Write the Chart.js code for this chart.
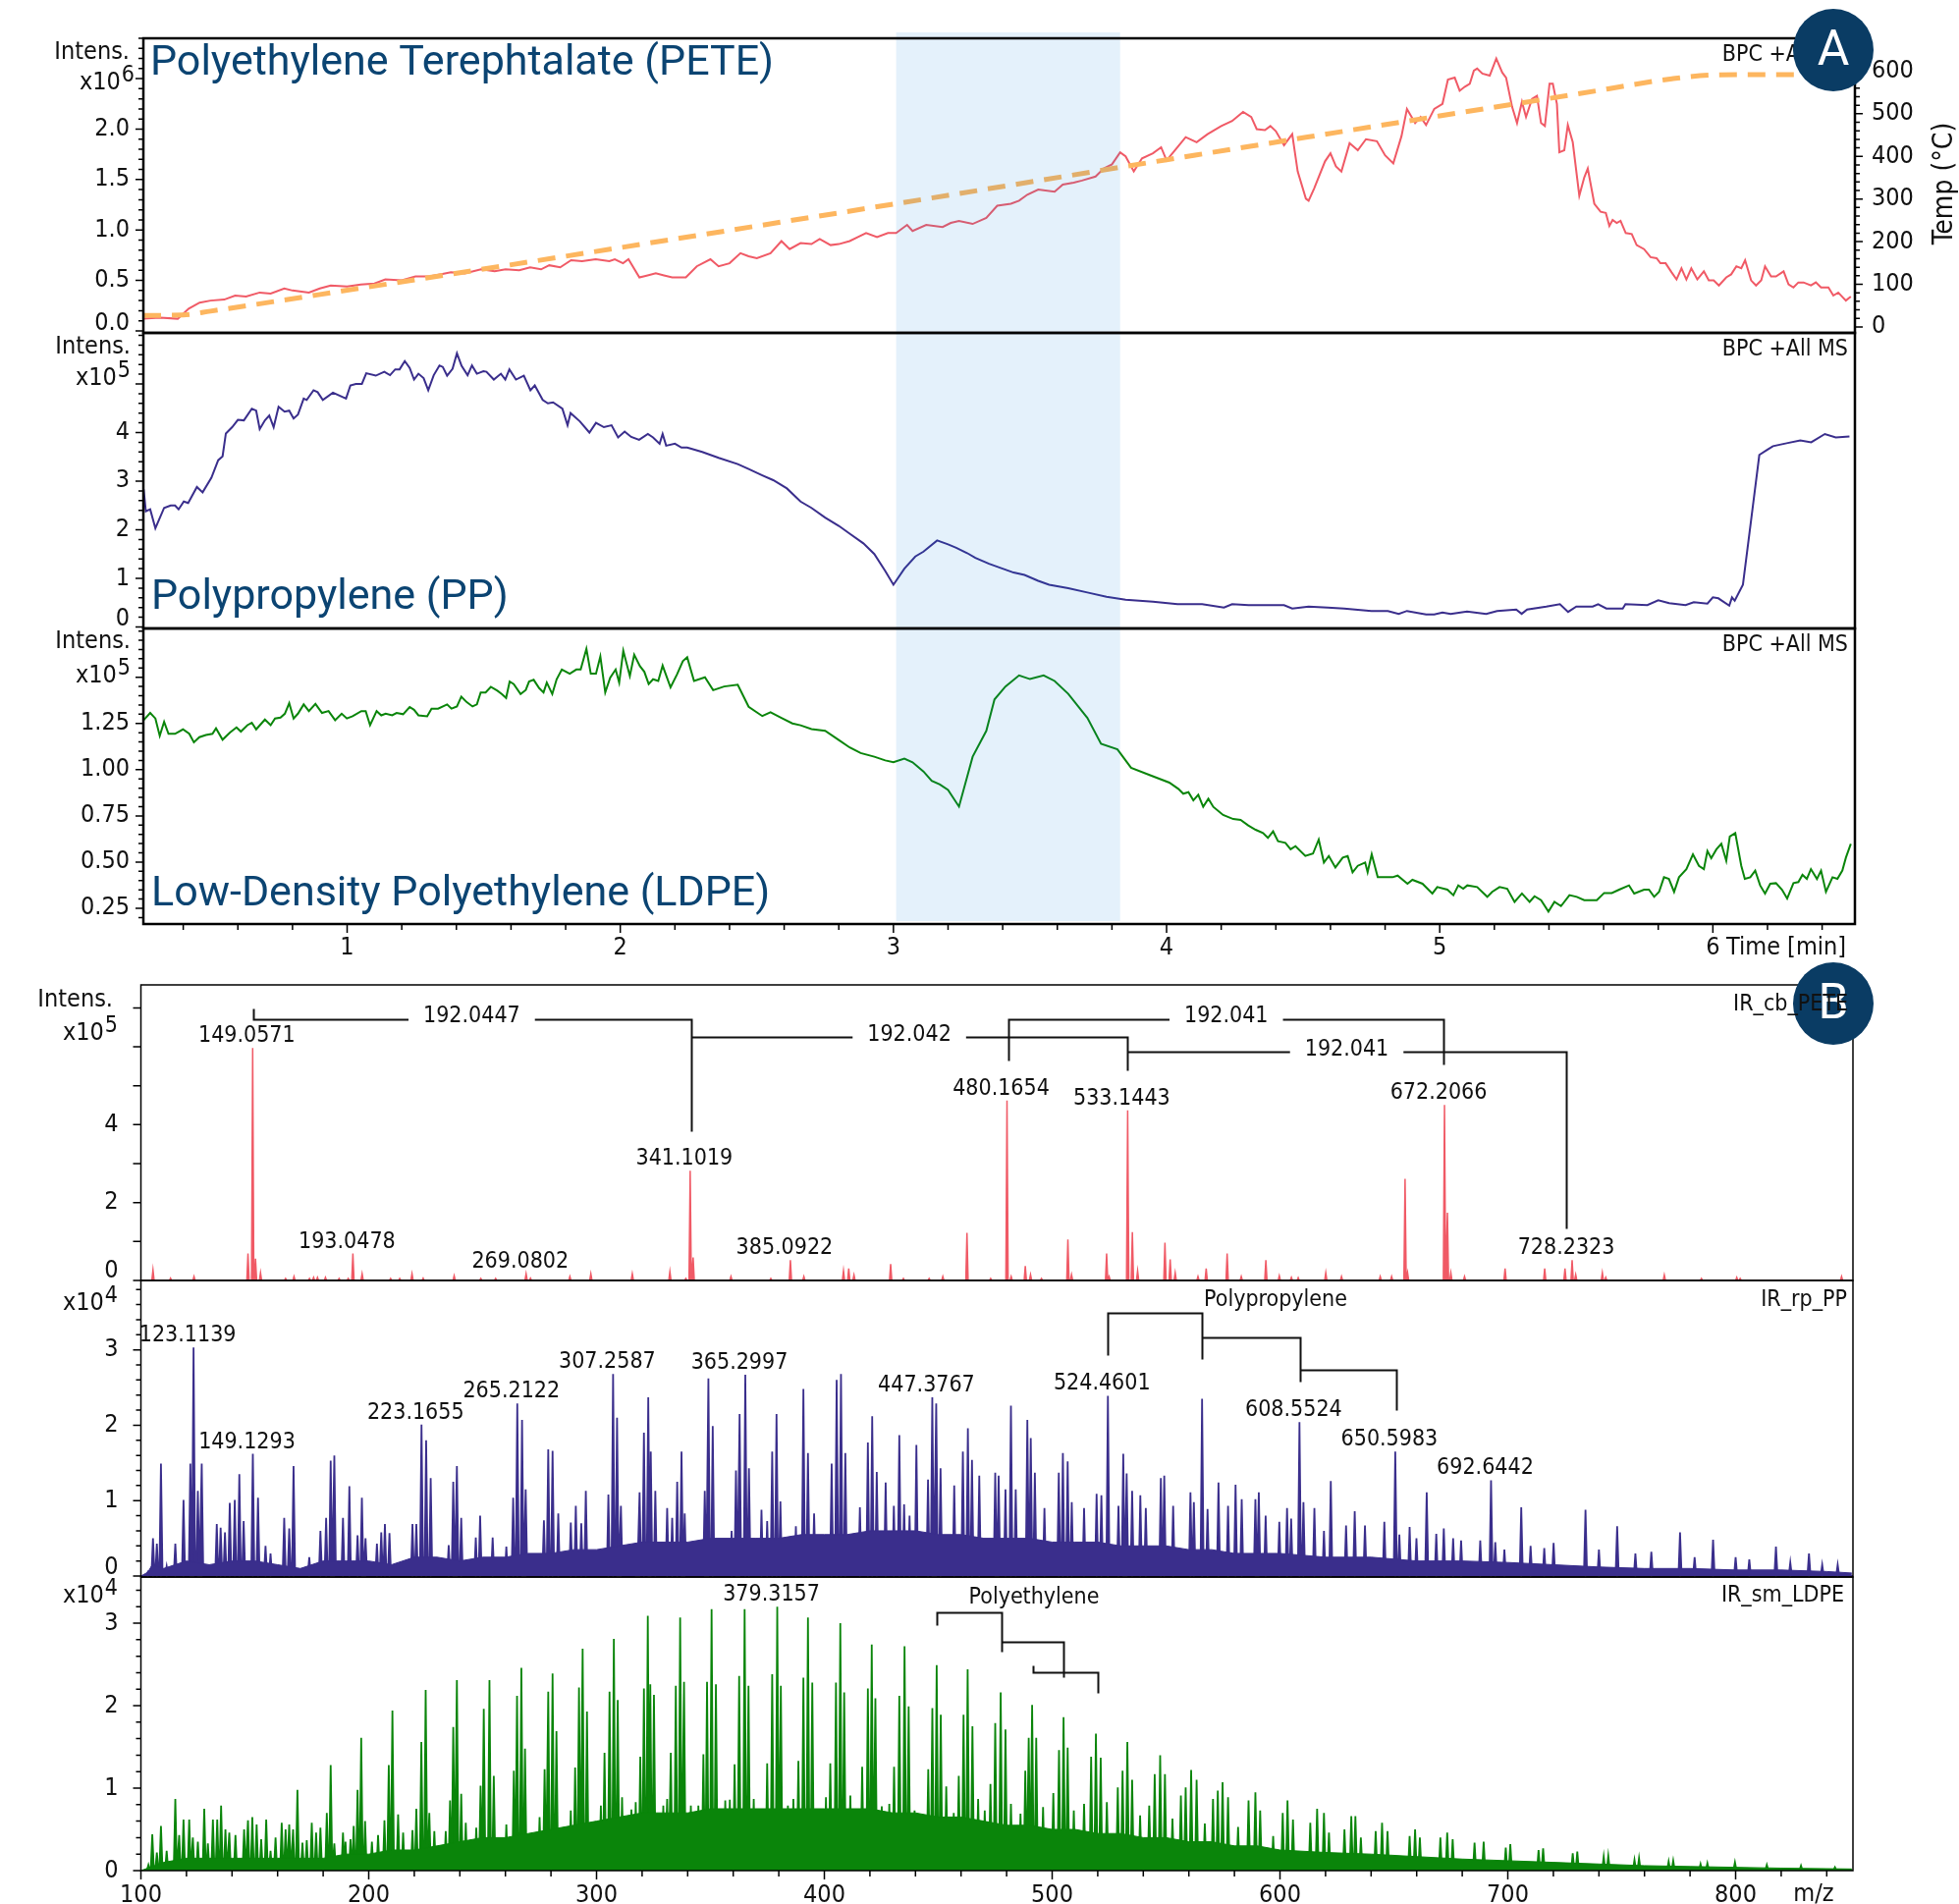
<!DOCTYPE html>
<html>
<head>
<meta charset="utf-8">
<script src="https://cdn.jsdelivr.net/npm/chart.js@4.4.0/dist/chart.umd.min.js"></script>
<style>
  html, body { margin: 0; padding: 0; background: #fff; }
  body { width: 1995px; height: 1939px; position: relative; overflow: hidden; }
  canvas { position: absolute; left: 0; }
</style>
</head>
<body>
<canvas id="a1" width="1995" height="400" style="top:0px"></canvas>
<canvas id="a2" width="1995" height="400" style="top:300px"></canvas>
<canvas id="a3" width="1995" height="390" style="top:600px"></canvas>
<canvas id="b1" width="1995" height="340" style="top:980px"></canvas>
<canvas id="b2" width="1995" height="340" style="top:1280px"></canvas>
<canvas id="b3" width="1995" height="359" style="top:1580px"></canvas>
<script>
// ---- chromatograms, [time min, intensity] ----
const peteTrace = [[0.254,0.12],[0.315,0.13],[0.38,0.12],[0.42,0.22],[0.46,0.28],[0.50,0.30],[0.55,0.31],[0.59,0.35],[0.63,0.34],[0.68,0.38],[0.72,0.37],[0.77,0.42],[0.80,0.40],[0.86,0.38],[0.90,0.42],[0.94,0.45],[1.00,0.44],[1.05,0.46],[1.10,0.47],[1.14,0.51],[1.20,0.50],[1.25,0.54],[1.30,0.54],[1.34,0.56],[1.38,0.58],[1.43,0.57],[1.49,0.61],[1.54,0.59],[1.58,0.61],[1.63,0.60],[1.67,0.63],[1.71,0.61],[1.74,0.65],[1.78,0.63],[1.82,0.70],[1.86,0.69],[1.91,0.71],[1.96,0.69],[1.98,0.71],[2.01,0.67],[2.03,0.71],[2.07,0.53],[2.10,0.55],[2.13,0.57],[2.16,0.55],[2.19,0.53],[2.24,0.53],[2.28,0.64],[2.33,0.71],[2.36,0.64],[2.40,0.67],[2.44,0.77],[2.47,0.74],[2.50,0.72],[2.55,0.77],[2.59,0.89],[2.62,0.81],[2.66,0.87],[2.70,0.86],[2.73,0.91],[2.77,0.85],[2.80,0.86],[2.84,0.89],[2.87,0.93],[2.90,0.97],[2.94,0.93],[2.98,0.97],[3.01,0.97],[3.05,1.05],[3.07,0.99],[3.12,1.05],[3.18,1.03],[3.21,1.07],[3.24,1.09],[3.29,1.06],[3.34,1.12],[3.38,1.24],[3.43,1.26],[3.46,1.29],[3.49,1.35],[3.53,1.40],[3.59,1.38],[3.62,1.45],[3.66,1.47],[3.69,1.49],[3.74,1.53],[3.77,1.61],[3.80,1.65],[3.83,1.77],[3.85,1.73],[3.88,1.58],[3.91,1.71],[3.95,1.76],[3.98,1.82],[4.00,1.69],[4.04,1.82],[4.07,1.92],[4.11,1.87],[4.15,1.95],[4.20,2.03],[4.24,2.08],[4.28,2.17],[4.31,2.12],[4.33,2.00],[4.36,1.99],[4.38,2.03],[4.40,1.98],[4.43,1.84],[4.46,1.95],[4.48,1.58],[4.51,1.31],[4.52,1.29],[4.54,1.41],[4.58,1.68],[4.60,1.76],[4.62,1.63],[4.64,1.58],[4.67,1.86],[4.70,1.79],[4.73,1.90],[4.77,1.88],[4.80,1.74],[4.83,1.66],[4.86,1.93],[4.88,2.20],[4.91,2.06],[4.93,2.12],[4.95,2.04],[4.98,2.20],[5.01,2.25],[5.03,2.49],[5.055,2.51],[5.073,2.38],[5.092,2.42],[5.11,2.45],[5.125,2.58],[5.137,2.60],[5.156,2.55],[5.183,2.53],[5.207,2.70],[5.229,2.56],[5.243,2.51],[5.265,2.22],[5.283,2.06],[5.301,2.27],[5.316,2.12],[5.338,2.30],[5.356,2.33],[5.371,2.06],[5.385,2.03],[5.402,2.45],[5.414,2.45],[5.429,2.25],[5.438,1.77],[5.456,1.79],[5.469,2.04],[5.487,1.87],[5.511,1.34],[5.529,1.52],[5.542,1.61],[5.566,1.26],[5.589,1.18],[5.608,1.17],[5.621,1.04],[5.633,1.10],[5.648,1.07],[5.662,1.09],[5.681,0.97],[5.703,0.96],[5.721,0.85],[5.748,0.81],[5.772,0.73],[5.794,0.72],[5.808,0.67],[5.827,0.67],[5.849,0.58],[5.867,0.51],[5.885,0.62],[5.903,0.51],[5.921,0.62],[5.943,0.51],[5.967,0.59],[5.985,0.50],[6.003,0.50],[6.022,0.45],[6.049,0.53],[6.067,0.56],[6.086,0.64],[6.104,0.62],[6.118,0.70],[6.14,0.50],[6.158,0.45],[6.177,0.50],[6.191,0.64],[6.213,0.54],[6.231,0.54],[6.259,0.59],[6.277,0.46],[6.295,0.43],[6.313,0.48],[6.332,0.48],[6.359,0.45],[6.377,0.48],[6.396,0.43],[6.423,0.43],[6.441,0.35],[6.459,0.38],[6.487,0.30],[6.505,0.34]];

const tempTrace = [[0.254,27],[0.40,28],[0.5,37],[1,86],[2,186],[3,288],[4,392],[5,495],[5.5,546],[5.85,582],[6.0,591],[6.2,592],[6.52,592]];

const ppTrace = [[0.255,2.83],[0.263,2.38],[0.279,2.42],[0.298,2.03],[0.330,2.45],[0.354,2.50],[0.370,2.50],[0.383,2.42],[0.402,2.58],[0.418,2.55],[0.450,2.88],[0.471,2.77],[0.503,3.07],[0.528,3.43],[0.544,3.51],[0.556,3.98],[0.579,4.11],[0.600,4.26],[0.622,4.25],[0.651,4.49],[0.667,4.45],[0.680,4.07],[0.699,4.25],[0.715,4.35],[0.731,4.11],[0.749,4.53],[0.771,4.43],[0.788,4.45],[0.804,4.29],[0.820,4.37],[0.841,4.70],[0.852,4.67],[0.877,4.87],[0.892,4.83],[0.911,4.67],[0.948,4.82],[0.996,4.70],[1.012,4.97],[1.032,5.00],[1.054,5.00],[1.070,5.22],[1.105,5.17],[1.136,5.25],[1.157,5.18],[1.176,5.30],[1.192,5.30],[1.211,5.47],[1.229,5.33],[1.245,5.09],[1.261,5.21],[1.280,5.12],[1.297,4.87],[1.317,5.18],[1.338,5.38],[1.350,5.35],[1.366,5.17],[1.386,5.31],[1.402,5.63],[1.419,5.37],[1.441,5.18],[1.457,5.38],[1.475,5.21],[1.499,5.26],[1.510,5.25],[1.537,5.09],[1.563,5.21],[1.579,5.09],[1.594,5.30],[1.618,5.09],[1.647,5.17],[1.671,4.87],[1.687,4.97],[1.716,4.67],[1.735,4.60],[1.754,4.62],[1.788,4.49],[1.807,4.15],[1.818,4.40],[1.852,4.23],[1.887,4.00],[1.911,4.20],[1.940,4.11],[1.968,4.15],[1.992,3.90],[2.016,4.02],[2.040,3.91],[2.069,3.85],[2.101,3.97],[2.120,3.90],[2.144,3.77],[2.155,3.97],[2.168,3.73],[2.200,3.77],[2.224,3.69],[2.245,3.69],[2.30,3.60],[2.36,3.48],[2.43,3.35],[2.47,3.25],[2.52,3.12],[2.56,3.02],[2.61,2.85],[2.66,2.58],[2.70,2.45],[2.75,2.25],[2.80,2.08],[2.84,1.92],[2.89,1.72],[2.93,1.50],[2.97,1.15],[3.00,0.87],[3.04,1.20],[3.08,1.45],[3.11,1.55],[3.16,1.78],[3.20,1.70],[3.23,1.63],[3.27,1.52],[3.30,1.42],[3.35,1.30],[3.39,1.22],[3.44,1.12],[3.48,1.07],[3.53,0.95],[3.57,0.87],[3.64,0.80],[3.71,0.71],[3.78,0.62],[3.85,0.56],[3.95,0.52],[4.04,0.47],[4.13,0.47],[4.21,0.40],[4.24,0.47],[4.30,0.45],[4.43,0.45],[4.46,0.38],[4.52,0.42],[4.59,0.40],[4.65,0.38],[4.75,0.33],[4.81,0.33],[4.85,0.27],[4.88,0.33],[4.95,0.26],[4.98,0.26],[5.01,0.30],[5.04,0.27],[5.10,0.32],[5.17,0.27],[5.21,0.33],[5.28,0.36],[5.30,0.27],[5.32,0.36],[5.39,0.42],[5.44,0.47],[5.47,0.31],[5.50,0.42],[5.56,0.42],[5.58,0.47],[5.61,0.38],[5.67,0.38],[5.68,0.47],[5.76,0.45],[5.80,0.55],[5.84,0.49],[5.90,0.45],[5.93,0.51],[5.98,0.48],[6.00,0.61],[6.02,0.59],[6.06,0.44],[6.07,0.61],[6.08,0.54],[6.11,0.87],[6.14,2.2],[6.17,3.54],[6.20,3.65],[6.22,3.72],[6.27,3.78],[6.32,3.84],[6.36,3.80],[6.41,3.97],[6.45,3.90],[6.50,3.92]];

const ldpeTrace = [[0.255,1.268],[0.279,1.307],[0.298,1.277],[0.314,1.183],[0.330,1.259],[0.346,1.194],[0.370,1.194],[0.399,1.218],[0.422,1.194],[0.439,1.148],[0.459,1.176],[0.483,1.188],[0.507,1.194],[0.520,1.224],[0.544,1.162],[0.571,1.201],[0.595,1.229],[0.611,1.206],[0.635,1.241],[0.651,1.254],[0.667,1.218],[0.699,1.271],[0.720,1.241],[0.736,1.277],[0.756,1.282],[0.772,1.303],[0.788,1.360],[0.804,1.277],[0.820,1.303],[0.841,1.353],[0.860,1.317],[0.884,1.356],[0.908,1.307],[0.932,1.317],[0.956,1.268],[0.980,1.303],[0.999,1.277],[1.020,1.289],[1.052,1.317],[1.068,1.317],[1.084,1.241],[1.108,1.317],[1.125,1.294],[1.141,1.303],[1.165,1.294],[1.181,1.307],[1.205,1.300],[1.229,1.339],[1.245,1.324],[1.261,1.294],[1.293,1.289],[1.309,1.330],[1.333,1.330],[1.366,1.353],[1.382,1.330],[1.402,1.342],[1.418,1.395],[1.438,1.365],[1.459,1.342],[1.475,1.353],[1.489,1.418],[1.507,1.418],[1.526,1.448],[1.550,1.427],[1.566,1.409],[1.582,1.388],[1.595,1.477],[1.610,1.463],[1.635,1.409],[1.654,1.431],[1.666,1.477],[1.683,1.486],[1.703,1.441],[1.719,1.418],[1.731,1.471],[1.751,1.409],[1.767,1.489],[1.786,1.542],[1.815,1.519],[1.839,1.542],[1.855,1.542],[1.876,1.654],[1.892,1.519],[1.911,1.519],[1.927,1.613],[1.945,1.418],[1.963,1.498],[1.983,1.542],[1.996,1.471],[2.011,1.643],[2.035,1.507],[2.051,1.622],[2.072,1.560],[2.088,1.530],[2.104,1.463],[2.120,1.489],[2.139,1.480],[2.155,1.563],[2.184,1.445],[2.208,1.516],[2.229,1.587],[2.245,1.608],[2.27,1.48],[2.31,1.50],[2.34,1.43],[2.38,1.45],[2.43,1.46],[2.47,1.34],[2.52,1.29],[2.55,1.31],[2.59,1.28],[2.63,1.25],[2.66,1.24],[2.70,1.22],[2.75,1.21],[2.80,1.16],[2.84,1.12],[2.88,1.09],[2.93,1.07],[2.97,1.05],[3.00,1.04],[3.04,1.06],[3.07,1.04],[3.11,0.99],[3.14,0.94],[3.17,0.92],[3.20,0.89],[3.24,0.80],[3.29,1.07],[3.34,1.21],[3.37,1.38],[3.41,1.45],[3.46,1.51],[3.50,1.49],[3.55,1.51],[3.59,1.48],[3.64,1.41],[3.71,1.28],[3.76,1.14],[3.82,1.11],[3.87,1.01],[3.94,0.97],[4.01,0.93],[4.043,0.896],[4.061,0.870],[4.080,0.878],[4.098,0.834],[4.116,0.864],[4.134,0.799],[4.153,0.843],[4.171,0.799],[4.207,0.755],[4.244,0.733],[4.271,0.728],[4.299,0.698],[4.326,0.675],[4.353,0.657],[4.371,0.631],[4.390,0.666],[4.408,0.613],[4.435,0.604],[4.454,0.569],[4.472,0.586],[4.508,0.533],[4.536,0.546],[4.557,0.622],[4.576,0.498],[4.594,0.533],[4.618,0.471],[4.645,0.524],[4.663,0.533],[4.681,0.445],[4.700,0.480],[4.727,0.498],[4.736,0.445],[4.751,0.542],[4.773,0.418],[4.827,0.418],[4.846,0.427],[4.882,0.383],[4.900,0.404],[4.937,0.383],[4.973,0.330],[4.991,0.365],[5.028,0.351],[5.050,0.321],[5.068,0.374],[5.086,0.356],[5.101,0.374],[5.137,0.365],[5.174,0.312],[5.192,0.339],[5.219,0.365],[5.247,0.356],[5.274,0.285],[5.301,0.330],[5.329,0.285],[5.347,0.315],[5.371,0.294],[5.398,0.232],[5.420,0.285],[5.444,0.262],[5.475,0.321],[5.502,0.312],[5.529,0.294],[5.575,0.294],[5.602,0.333],[5.630,0.333],[5.657,0.351],[5.693,0.374],[5.712,0.330],[5.748,0.351],[5.766,0.351],[5.785,0.312],[5.803,0.339],[5.821,0.418],[5.839,0.409],[5.858,0.339],[5.876,0.418],[5.903,0.462],[5.927,0.542],[5.949,0.480],[5.967,0.462],[5.980,0.560],[5.994,0.521],[6.013,0.569],[6.031,0.599],[6.049,0.507],[6.062,0.639],[6.082,0.657],[6.104,0.480],[6.117,0.409],[6.137,0.418],[6.155,0.454],[6.173,0.374],[6.191,0.330],[6.210,0.383],[6.231,0.386],[6.253,0.351],[6.272,0.303],[6.295,0.386],[6.313,0.392],[6.328,0.431],[6.344,0.409],[6.359,0.462],[6.381,0.409],[6.396,0.454],[6.414,0.339],[6.438,0.418],[6.456,0.409],[6.474,0.454],[6.487,0.524],[6.505,0.599]];

const heatWindow = [3.01, 3.83];

// ---- mass spectra, [m/z, intensity] ----
const petePeaks = [[105.3,0.27],[113.0,0.06],[123.3,0.10],[147.0,0.69],[149.06,5.97],[150.3,0.56],[152.5,0.2],[163.5,0.05],[167.2,0.1],[174,0.05],[175.8,0.08],[177.5,0.08],[181.0,0.08],[187,0.05],[191,0.05],[193.05,0.69],[197.1,0.17],[209.6,0.05],[213.6,0.05],[219.0,0.17],[223.9,0.06],[237.5,0.12],[249.2,0.05],[255.7,0.05],[269.08,0.17],[271,0.06],[288.3,0.1],[297.5,0.17],[315.7,0.17],[332.2,0.23],[339.2,0.05],[341.10,2.82],[342.4,0.59],[359.0,0.1],[376.5,0.05],[385.09,0.52],[391,0.1],[408.4,0.25],[410.7,0.31],[413,0.14],[429.1,0.42],[434.7,0.05],[446,0.05],[452,0.1],[462.6,1.22],[473,0.05],[480.17,4.62],[482,0.1],[488.2,0.37],[490.5,0.15],[495.3,0.05],[506.9,1.05],[508.5,0.15],[523.9,0.69],[525,0.1],[533.14,4.37],[535.2,1.24],[537.5,0.25],[549.5,0.97],[551.8,0.54],[554,0.2],[564,0.1],[567.6,0.31],[576.8,0.69],[583,0.1],[593.8,0.52],[599.7,0.12],[605,0.08],[608,0.07],[620.1,0.2],[627,0.1],[644,0.1],[649,0.1],[654.9,2.61],[656,0.2],[672.21,4.51],[673.5,1.74],[675,0.2],[681,0.1],[698.8,0.31],[716.2,0.31],[725.1,0.31],[728.23,0.52],[729.8,0.15],[741.5,0.2],[743,0.08],[768.7,0.14],[785,0.05],[800.5,0.08],[802,0.05],[846.5,0.1]];

const ppPeaks = [[103,0.05],[105.3,0.5],[107,0.43],[108.8,1.49],[111.3,0.13],[115.1,0.43],[118.7,1.01],[121.7,1.49],[123.11,3.03],[125.0,1.13],[126.7,1.49],[133.3,0.69],[135.0,0.64],[136.9,0.58],[139.0,0.97],[141.2,1.01],[143.2,1.35],[145.1,0.73],[149.13,1.62],[151.4,1.04],[154.7,0.40],[156.9,0.30],[162.9,0.77],[165.1,0.63],[167.0,1.46],[173.9,0.25],[178.8,0.60],[181.3,0.77],[183.3,1.53],[184.9,1.60],[188.7,0.77],[191.5,1.19],[195.1,0.54],[197.0,1.04],[198.6,0.50],[203.6,0.43],[205.5,0.58],[207.1,0.69],[209.1,0.57],[219.2,0.69],[220.9,0.69],[223.17,2.01],[225.2,1.80],[227.2,1.30],[235.1,0.41],[237.1,1.25],[238.7,1.46],[240.6,0.77],[247.0,0.51],[248.9,0.80],[254.4,0.51],[260.4,0.39],[263.4,1.04],[265.21,2.29],[267.3,2.07],[268.9,1.15],[276.9,0.74],[278.8,1.68],[280.7,1.66],[283.2,0.83],[288.7,0.71],[290.9,0.93],[293.3,0.70],[295.3,1.13],[305.2,1.08],[307.26,2.68],[309.0,2.10],[310.7,0.93],[317.2,0.36],[318.9,1.11],[320.8,1.90],[322.7,2.37],[323.8,1.65],[325.8,1.13],[331.0,0.90],[333.2,0.77],[335.4,1.25],[337.3,1.65],[338.7,0.83],[347.5,1.13],[349.1,2.62],[351.0,1.99],[359.3,0.60],[361.2,1.40],[362.8,2.15],[365.30,2.67],[366.9,1.43],[372.4,0.88],[374.9,0.73],[377.1,1.65],[379.0,2.15],[380.7,0.99],[387.5,0.66],[390.8,2.48],[392.8,1.63],[395.5,0.83],[403.2,1.49],[405.4,2.60],[407.3,2.68],[409.2,1.63],[415.6,0.91],[419.1,1.77],[421.0,2.12],[423.0,1.38],[426.9,1.24],[430.5,0.93],[432.9,1.87],[435,0.95],[437.4,0.8],[440.4,1.74],[445.5,1.28],[447.38,2.37],[449.1,2.29],[451.0,1.43],[457.0,1.20],[460.8,1.65],[463.0,1.96],[464.8,1.54],[468.0,1.33],[475.0,1.37],[476.5,1.33],[479.5,1.15],[481.9,2.26],[484.0,1.15],[489.1,2.07],[490.6,1.83],[492.4,1.37],[496.6,0.9],[502.9,1.37],[504.7,1.63],[506.8,1.52],[508.6,0.98],[514.0,0.90],[519.5,1.09],[521.6,1.07],[524.46,2.39],[529.1,0.93],[531.2,1.62],[532.7,1.36],[535.1,1.13],[538.7,1.07],[541.1,0.90],[547.7,1.30],[549.2,1.33],[553.1,0.93],[560.7,1.11],[562.2,0.98],[565.8,2.35],[568.2,0.89],[573.0,1.24],[577.2,0.93],[580.5,1.21],[583.2,1.02],[589.2,1.02],[590.7,1.11],[593.7,0.80],[599.7,0.72],[603.1,0.90],[604.9,0.76],[608.55,2.04],[610.3,0.98],[615.1,0.90],[619.3,0.60],[622.3,1.26],[629.0,0.67],[632.8,0.86],[637.3,0.67],[645.8,0.72],[650.60,1.65],[652.4,0.55],[656.9,0.65],[659.9,0.50],[664.4,1.11],[668.6,0.56],[671.9,0.63],[676,0.50],[679.5,0.47],[687.9,0.47],[692.64,1.27],[694.5,0.45],[698.5,0.35],[705.9,0.91],[710,0.40],[716,0.37],[720.1,0.44],[734.1,0.88],[740,0.35],[748.0,0.66],[756,0.3],[763,0.32],[775.6,0.58],[782,0.25],[790.1,0.48],[800,0.25],[806,0.22],[817.7,0.39],[824,0.18],[832.2,0.30],[838,0.15],[844.8,0.15]];

const ldpePeaks = [[103.3,0.07],[105.0,0.44],[107.0,0.22],[108.8,0.54],[111.3,0.24],[115.1,0.87],[116.8,0.43],[118.7,0.62],[121.2,0.62],[122.8,0.40],[125.0,0.35],[127.8,0.75],[129.4,0.33],[131.6,0.62],[133.5,0.62],[135.2,0.79],[137.1,0.50],[138.8,0.46],[141.5,0.43],[145.3,0.50],[147.0,0.61],[148.9,0.65],[150.8,0.56],[152.8,0.38],[155.0,0.62],[156.9,0.24],[159.1,0.40],[161.8,0.58],[163.5,0.50],[165.1,0.56],[166.8,0.50],[168.7,0.98],[170.9,0.34],[172.8,0.37],[175.0,0.58],[176.9,0.46],[178.8,0.52],[181.6,0.70],[183.3,1.28],[184.9,0.33],[188.7,0.46],[189.8,0.35],[192.0,0.38],[193.4,0.54],[195.1,0.98],[196.7,1.61],[198.4,0.60],[201.4,0.35],[204.1,0.43],[206.9,0.61],[208.8,1.28],[210.4,1.94],[212.9,0.68],[215.1,0.46],[219.2,0.49],[220.9,0.75],[223.1,1.56],[225.0,2.19],[226.6,0.70],[228.8,0.48],[233.8,0.48],[235.7,0.85],[237.1,1.74],[238.7,2.31],[240.6,0.93],[242.6,0.58],[247.2,0.52],[249.1,1.03],[250.5,1.96],[253.0,2.31],[254.9,1.15],[260.4,0.56],[263.7,1.21],[265.1,2.12],[267.0,2.46],[268.6,1.48],[272.2,0.42],[275.0,0.65],[277.2,1.23],[278.8,2.17],[280.7,2.39],[282.4,1.69],[284.6,0.50],[288.7,0.73],[290.6,1.25],[292.3,2.22],[293.9,2.69],[295.8,1.93],[297.7,0.50],[301.9,0.79],[303.5,1.43],[305.7,2.17],[307.6,2.81],[309.3,2.07],[311.2,0.89],[315.3,0.74],[317.2,0.83],[319.2,1.38],[320.8,2.21],[322.5,3.09],[323.6,2.26],[325.2,2.13],[329.3,0.79],[331.0,0.87],[332.6,1.43],[334.8,2.24],[336.7,3.07],[338.4,2.29],[341.4,0.79],[344.7,0.79],[346.9,1.41],[348.5,2.29],[350.5,3.17],[352.4,2.26],[356.5,0.85],[358.5,0.86],[360.6,1.29],[362.6,2.36],[365.0,3.17],[366.7,2.24],[369.0,0.87],[373.0,0.73],[374.9,1.30],[377.1,2.38],[379.32,3.20],[380.9,2.24],[384.0,0.79],[386.4,0.87],[388.6,1.33],[390.8,2.34],[392.8,3.07],[394.7,2.28],[397.7,0.61],[400.7,0.89],[402.6,1.30],[405.1,2.28],[407.0,3.00],[408.7,2.16],[411.4,0.91],[414.7,0.75],[416.6,1.26],[419.1,2.21],[420.8,2.74],[422.4,2.09],[425.2,0.78],[428.5,0.81],[430.6,1.26],[432.9,2.12],[435.2,2.72],[437.0,1.99],[439.6,0.73],[443.0,0.59],[445.6,1.23],[447.4,1.97],[449.3,2.49],[451.1,1.89],[453.5,1.02],[456.8,0.70],[459.0,1.15],[461.1,1.89],[462.9,2.44],[465.0,1.75],[467.5,0.87],[470.4,0.73],[472.9,1.05],[475.0,1.79],[477.4,2.16],[479.5,1.71],[481.9,0.81],[486.1,0.69],[488.2,1.21],[489.7,1.61],[491.2,2.01],[493.0,1.61],[496.0,0.77],[500.5,0.94],[503.0,1.46],[505.0,1.86],[506.8,1.49],[509.5,0.73],[514.0,0.81],[517.1,1.38],[519.2,1.66],[521.3,1.37],[524.0,0.83],[528.8,1.01],[530.9,1.21],[533.0,1.56],[535.1,1.10],[538.6,0.67],[542.6,0.79],[545.0,1.17],[547.4,1.40],[549.5,1.17],[552.8,0.63],[556.5,0.91],[558.6,1.01],[561.0,1.22],[563.4,1.10],[567.0,0.57],[570.6,0.87],[572.7,0.97],[574.8,1.07],[577.2,0.89],[581.6,0.53],[586.2,0.85],[589.2,0.95],[591.3,0.73],[597,0.42],[601.2,0.70],[603.3,0.85],[605.7,0.62],[613.3,0.58],[616.3,0.75],[619.3,0.70],[621.5,0.46],[628.3,0.50],[631.3,0.66],[633.1,0.66],[635.5,0.40],[642.0,0.48],[644.8,0.58],[647.2,0.48],[656.9,0.42],[659.3,0.50],[661.4,0.40],[670.4,0.40],[673.4,0.46],[675.8,0.38],[685.4,0.34],[689.4,0.35],[699.1,0.28],[701.1,0.32],[713.5,0.25],[715.5,0.27],[728.5,0.21],[730.5,0.23],[742.1,0.17],[744.1,0.18],[755.6,0.13],[757.6,0.15],[770.6,0.11],[772.6,0.12],[784.6,0.08],[787.6,0.09],[799.7,0.10],[813.7,0.07],[828.7,0.06],[843.6,0.04]];

// dense low-level signal under the PP and LDPE spectra, [m/z, level]
const ppGrass = [[100,0.0],[103,0.05],[105,0.15],[110,0.1],[120,0.2],[130,0.15],[140,0.2],[150,0.2],[160,0.15],[170,0.1],[180,0.2],[190,0.2],[200,0.2],[210,0.15],[220,0.25],[230,0.25],[240,0.2],[250,0.25],[260,0.25],[270,0.3],[280,0.3],[290,0.35],[300,0.35],[310,0.4],[320,0.45],[330,0.45],[340,0.45],[350,0.5],[360,0.5],[370,0.5],[380,0.5],[390,0.55],[400,0.55],[410,0.55],[420,0.6],[430,0.6],[440,0.6],[450,0.55],[460,0.55],[470,0.5],[480,0.5],[490,0.5],[500,0.45],[510,0.45],[520,0.45],[530,0.4],[540,0.4],[550,0.4],[560,0.35],[570,0.35],[580,0.3],[590,0.3],[600,0.3],[620,0.25],[640,0.25],[660,0.2],[680,0.2],[700,0.18],[720,0.15],[740,0.12],[760,0.1],[780,0.1],[800,0.08],[820,0.08],[840,0.06],[851,0.04]];
const ldpeGrass = [[100,0.0],[103,0.03],[110,0.1],[120,0.15],[130,0.15],[140,0.15],[150,0.15],[160,0.15],[170,0.15],[180,0.15],[190,0.2],[200,0.2],[210,0.25],[220,0.25],[230,0.3],[240,0.35],[250,0.4],[260,0.4],[270,0.45],[280,0.5],[290,0.55],[300,0.6],[310,0.65],[320,0.7],[330,0.7],[340,0.7],[350,0.75],[360,0.75],[370,0.75],[380,0.75],[390,0.75],[400,0.75],[410,0.75],[420,0.75],[430,0.7],[440,0.7],[450,0.65],[460,0.65],[470,0.6],[480,0.55],[490,0.55],[500,0.5],[510,0.5],[520,0.45],[530,0.45],[540,0.4],[550,0.4],[560,0.35],[570,0.35],[580,0.3],[590,0.3],[600,0.25],[620,0.22],[640,0.2],[660,0.17],[680,0.14],[700,0.12],[720,0.1],[740,0.08],[760,0.06],[780,0.05],[800,0.04],[820,0.03],[851,0.02]];

// annotations
const peteLabels = [['149.0571',149.06,5.97],['193.0478',193.05,0.69],['269.0802',269.08,0.17],['341.1019',341.10,2.82],['385.0922',385.09,0.52],['480.1654',480.17,4.62],['533.1443',533.14,4.37],['672.2066',672.21,4.51],['728.2323',728.23,0.52]];
const ppLabels = [['123.1139',123.11,3.03],['149.1293',149.13,1.62],['223.1655',223.17,2.01],['265.2122',265.21,2.29],['307.2587',307.26,2.68],['365.2997',365.30,2.67],['447.3767',447.38,2.37],['524.4601',524.46,2.39],['608.5524',608.55,2.04],['650.5983',650.60,1.65],['692.6442',692.64,1.27]];
const ldpeLabels = [['379.3157',379.32,3.20]];

const peteBrackets = [[[149.2,6.99],[149.2,6.72],[341.4,6.72],[341.4,3.84]],[[341.4,6.25],[533.1,6.25],[533.1,5.39]],[[480.6,5.66],[480.6,6.72],[671.6,6.72],[671.6,5.55]],[[533.1,5.88],[725.7,5.88],[725.7,1.34]]];
const peteBracketText = [['192.0447',245.2,6.72],['192.042',437.3,6.25],['192.041',576.4,6.72],['192.041',629.3,5.88]];
const ppBrackets = [[[524.2,2.93],[524.2,3.49],[565.8,3.49],[565.8,2.88]],[[565.8,3.16],[608.8,3.16],[608.8,2.58]],[[608.8,2.74],[650.9,2.74],[650.9,2.20]]];
const peBrackets = [[[449.4,2.98],[449.4,3.13],[478.0,3.13],[478.0,2.65]],[[478.0,2.78],[505.0,2.78],[505.0,2.34]],[[491.5,2.49],[491.5,2.40],[520.1,2.40],[520.1,2.15]]];

const FONT = '"DejaVu Sans Condensed", "Liberation Sans Narrow", "DejaVu Sans", sans-serif';
const TFONT = 'Roboto, "Noto Sans", sans-serif';
const NAVY = '#0b4472';
const RED = '#f05a66', BLUE = '#3a2e8c', GREEN = '#0a850a';

function range(from, to, step) {
  const out = [];
  for (let i = 0; from + i * step <= to + 1e-9; i++) out.push(+(from + i * step).toFixed(6));
  return out;
}

function sticks(peaks, lo, hi, w) {
  const pts = [{x: lo, y: 0}];
  peaks.forEach(([m, v]) => { pts.push({x: m - w, y: 0}, {x: m, y: v}, {x: m + w, y: 0}); });
  pts.push({x: hi, y: 0});
  return pts;
}
const xy = arr => arr.map(([x, y]) => ({x, y}));

function drawY(chart, ax) {
  const ctx = chart.ctx, a = chart.chartArea, s = chart.scales[ax.id];
  const left = ax.side !== 'right', x0 = left ? a.left : a.right, dir = left ? -1 : 1;
  ctx.strokeStyle = '#000'; ctx.lineWidth = 1.5;
  ctx.beginPath();
  const all = ax.minor ? range(ax.from, s.max, ax.minor) : ax.majors;
  all.forEach(v => {
    const y = s.getPixelForValue(v);
    if (y < a.top - 0.5 || y > a.bottom + 0.5) return;
    const major = ax.majors.some(m => Math.abs(m - v) < 1e-6);
    ctx.moveTo(x0, y); ctx.lineTo(x0 + dir * (major ? 8 : 5), y);
  });
  ctx.stroke();
  ctx.font = '25px ' + FONT; ctx.fillStyle = '#111';
  ctx.textAlign = left ? 'right' : 'left'; ctx.textBaseline = 'middle';
  ax.labels.forEach(v => {
    let y = s.getPixelForValue(v);
    if (!ax.noShift) y = Math.min(y, a.bottom - 10);
    ctx.fillText(ax.fmt(v), x0 + dir * ax.gap, y);
  });
}

function drawX(chart, ax) {
  const ctx = chart.ctx, a = chart.chartArea, s = chart.scales.x;
  ctx.strokeStyle = '#000'; ctx.lineWidth = 1.5;
  ctx.beginPath();
  range(ax.from, s.max, ax.minor).forEach(v => {
    const x = s.getPixelForValue(v);
    if (x < a.left - 0.5 || x > a.right + 0.5) return;
    const major = Math.abs(v / ax.major - Math.round(v / ax.major)) < 1e-6;
    ctx.moveTo(x, a.bottom); ctx.lineTo(x, a.bottom + (major ? 9 : 6));
  });
  ctx.stroke();
  ctx.font = '25px ' + FONT; ctx.fillStyle = '#111';
  ctx.textAlign = 'center'; ctx.textBaseline = 'middle';
  ax.labels.forEach(v => ctx.fillText(String(v), s.getPixelForValue(v), a.bottom + ax.gap));
}

function expLabel(ctx, xr, y, exp) {
  ctx.font = '23px ' + FONT; ctx.textAlign = 'right'; ctx.textBaseline = 'middle'; ctx.fillStyle = '#111';
  const w = ctx.measureText(exp).width;
  ctx.fillText(exp, xr, y - 7);
  ctx.font = '25px ' + FONT;
  ctx.fillText('x10', xr - w - 1, y);
}

function drawBadge(ctx, spec) {
  const [bx, by, letter] = spec.badge, off = spec.top;
  ctx.fillStyle = '#0a3c64';
  ctx.beginPath(); ctx.ellipse(bx, by - off, 41, 42, 0, 0, Math.PI * 2); ctx.fill();
  ctx.fillStyle = '#fff'; ctx.font = '50px ' + TFONT; ctx.textAlign = 'center'; ctx.textBaseline = 'middle';
  ctx.fillText(letter, bx, by - off + 2);
}

function deco(spec) {
  return {
    id: 'deco',
    afterDatasetsDraw(chart) {
      const ctx = chart.ctx, a = chart.chartArea, off = spec.top;
      const sx = chart.scales.x, sy = chart.scales.y;
      ctx.save();
      if (spec.band) {
        const x1 = sx.getPixelForValue(heatWindow[0]), x2 = sx.getPixelForValue(heatWindow[1]);
        ctx.fillStyle = 'rgba(0,120,215,0.105)';
        ctx.fillRect(x1, a.top - spec.band[0], x2 - x1, a.bottom - a.top + spec.band[0] + spec.band[1]);
      }
      ctx.strokeStyle = '#000'; ctx.lineWidth = spec.boxW;
      ctx.strokeRect(a.left, a.top, a.right - a.left, a.bottom - a.top);
      spec.yAxes.forEach(ax => drawY(chart, ax));
      if (spec.xAxis) drawX(chart, spec.xAxis);
      // brackets
      (spec.brackets || []).forEach(pl => {
        ctx.strokeStyle = '#111'; ctx.lineWidth = 2;
        ctx.beginPath();
        pl.forEach(([m, v], i) => {
          const px = Math.round(sx.getPixelForValue(m)) + 0.5, py = Math.round(sy.getPixelForValue(v)) + 0.5;
          if (i) ctx.lineTo(px, py); else ctx.moveTo(px, py);
        });
        ctx.stroke();
      });
      ctx.font = '23px ' + FONT; ctx.textBaseline = 'middle'; ctx.textAlign = 'center';
      (spec.bracketText || []).forEach(([t, m, v]) => {
        const px = sx.getPixelForValue(m), py = sy.getPixelForValue(v);
        const w = ctx.measureText(t).width;
        ctx.fillStyle = '#fff'; ctx.fillRect(px - w / 2 - 15, py - 6, w + 30, 12);
        ctx.fillStyle = '#111'; ctx.fillText(t, px, py - 2);
      });
      ctx.textBaseline = 'alphabetic';
      (spec.peakLabels || []).forEach(([t, m, v]) => {
        ctx.fillStyle = '#111';
        ctx.fillText(t, sx.getPixelForValue(m) - 6, sy.getPixelForValue(v) - 6);
      });
      if (spec.badge && spec.badgeUnder) drawBadge(ctx, spec);
      (spec.texts || []).forEach(t => {
        ctx.font = t.font; ctx.fillStyle = t.color || '#111';
        ctx.textAlign = t.align || 'left'; ctx.textBaseline = t.base || 'middle';
        if (t.rot) {
          ctx.save(); ctx.translate(t.x, t.y - off); ctx.rotate(t.rot); ctx.fillText(t.t, 0, 0); ctx.restore();
        } else ctx.fillText(t.t, t.x, t.y - off);
      });
      (spec.exps || []).forEach(([x, y, e]) => expLabel(ctx, x, y - off, e));
      if (spec.badge && !spec.badgeUnder) drawBadge(ctx, spec);
      ctx.restore();
    }
  };
}

function make(id, top, height, box, xr, yr, datasets, spec, extraScales) {
  spec.top = top;
  const scales = {
    x: {type: 'linear', min: xr[0], max: xr[1], display: false},
    y: {type: 'linear', min: yr[0], max: yr[1], display: false}
  };
  Object.assign(scales, extraScales || {});
  return new Chart(document.getElementById(id), {
    type: 'line',
    data: {datasets},
    options: {
      responsive: false, animation: false, events: [],
      layout: {padding: {left: box[0], right: 1995 - box[1], top: box[2] - top, bottom: top + height - box[3]}},
      plugins: {legend: {display: false}, tooltip: {enabled: false}},
      elements: {point: {radius: 0}, line: {tension: 0}},
      scales
    },
    plugins: [deco(spec)]
  });
}

const trace = (d, color, w, axis) => ({data: xy(d), borderColor: color, borderWidth: w, yAxisID: axis || 'y', fill: false});
const spec = (d, color, w) => ({data: d, borderColor: color, backgroundColor: color, borderWidth: w || 1.6, fill: 'origin'});
const A = [146, 1889], B = [143.5, 1887];
const tRange = [0.254, 6.52], mzRange = [100, 851.5];

// ---- Panel A ----
make('a1', 0, 400, [A[0], A[1], 39, 339], tRange, [-0.02, 2.9], [
  Object.assign(trace(tempTrace, '#fdb65f', 5, 'yT'), {borderDash: [18, 11], cubicInterpolationMode: 'monotone', tension: 0.4}),
  trace(peteTrace, RED, 2)
], {
  boxW: 2.5, band: [6, 0],
  yAxes: [
    {id: 'y', majors: range(0, 2.5, 0.5), labels: range(0, 2, 0.5), from: 0, minor: 0.1, gap: 14, fmt: v => v.toFixed(1)},
    {id: 'yT', side: 'right', majors: range(0, 600, 100), labels: range(0, 600, 100), from: 0, minor: 20, gap: 17, noShift: true, fmt: v => String(v)}
  ],
  texts: [
    {t: 'Polyethylene Terephtalate (PETE)', x: 153, y: 76, font: '43px ' + TFONT, color: NAVY, base: 'alphabetic'},
    {t: 'BPC +All MS', x: 1882, y: 56, font: '23px ' + FONT, align: 'right'},
    {t: 'Intens.', x: 132, y: 53, font: '25px ' + FONT, align: 'right'},
    {t: 'Temp (°C)', x: 1981, y: 187, font: '28px ' + FONT, align: 'center', rot: -Math.PI / 2}
  ],
  exps: [[137, 84, '6']],
  badge: [1867, 51, 'A']
}, {yT: {type: 'linear', min: -14, max: 677, display: false}});

make('a2', 300, 400, [A[0], A[1], 339, 640], tRange, [-0.03, 6.05], [trace(ppTrace, BLUE, 2)], {
  boxW: 2.5, band: [0, 0],
  yAxes: [{id: 'y', majors: range(0, 5, 1), labels: range(0, 4, 1), from: 0, minor: 0.2, gap: 14, fmt: v => String(v)}],
  texts: [
    {t: 'Polypropylene (PP)', x: 154, y: 620, font: '43px ' + TFONT, color: NAVY, base: 'alphabetic'},
    {t: 'BPC +All MS', x: 1882, y: 356, font: '23px ' + FONT, align: 'right'},
    {t: 'Intens.', x: 133, y: 353, font: '25px ' + FONT, align: 'right'}
  ],
  exps: [[133, 385, '5']]
});

make('a3', 600, 390, [A[0], A[1], 640, 941], tRange, [0.165, 1.764], [trace(ldpeTrace, GREEN, 2)], {
  boxW: 2.5, band: [0, -3],
  yAxes: [{id: 'y', majors: range(0.25, 1.5, 0.25), labels: range(0.25, 1.25, 0.25), from: 0.2, minor: 0.05, gap: 14, noShift: true, fmt: v => v.toFixed(2)}],
  xAxis: {from: 0.4, minor: 0.2, major: 1, labels: [1, 2, 3, 4, 5, 6], gap: 24},
  texts: [
    {t: 'Low-Density Polyethylene (LDPE)', x: 154, y: 922, font: '43px ' + TFONT, color: NAVY, base: 'alphabetic'},
    {t: 'BPC +All MS', x: 1882, y: 657, font: '23px ' + FONT, align: 'right'},
    {t: 'Intens.', x: 133, y: 653, font: '25px ' + FONT, align: 'right'},
    {t: 'Time [min]', x: 1758, y: 965, font: '25px ' + FONT}
  ],
  exps: [[133, 688, '5']]
});

// ---- Panel B ----
make('b1', 980, 340, [B[0], B[1], 1003, 1304], mzRange, [0, 7.59], [spec(sticks(petePeaks, 100, 851.5, 0.5), RED, 1.5)], {
  boxW: 1.5,
  yAxes: [{id: 'y', majors: range(0, 7, 1), labels: [0, 2, 4], gap: 23, fmt: v => String(v)}],
  brackets: peteBrackets, bracketText: peteBracketText, peakLabels: peteLabels,
  texts: [
    {t: 'IR_cb_PETE', x: 1882, y: 1023, font: '23px ' + FONT, align: 'right'},
    {t: 'Intens.', x: 115, y: 1018, font: '25px ' + FONT, align: 'right'}
  ],
  exps: [[120, 1052, '5']],
  badge: [1867, 1022, 'B'], badgeUnder: true
});

make('b2', 1280, 340, [B[0], B[1], 1304, 1606], mzRange, [-0.013, 3.92], [
  spec(xy(ppGrass), BLUE, 1),
  spec(sticks(ppPeaks, 100, 851.5, 0.7), BLUE, 1.8)
], {
  boxW: 1.5,
  yAxes: [{id: 'y', majors: range(0, 3, 1), labels: range(0, 3, 1), from: 0, minor: 0.2, gap: 23, fmt: v => String(v)}],
  brackets: ppBrackets, peakLabels: ppLabels,
  texts: [
    {t: 'IR_rp_PP', x: 1881, y: 1324, font: '23px ' + FONT, align: 'right'},
    {t: 'Polypropylene', x: 1299, y: 1324, font: '23px ' + FONT, align: 'center'}
  ],
  exps: [[120, 1327, '4']]
});

make('b3', 1580, 359, [B[0], B[1], 1606, 1905], mzRange, [0, 3.56], [
  spec(xy(ldpeGrass), GREEN, 1),
  spec(sticks(ldpePeaks, 100, 851.5, 0.7), GREEN, 1.8)
], {
  boxW: 1.5,
  yAxes: [{id: 'y', majors: range(0, 3, 1), labels: range(0, 3, 1), from: 0, minor: 0.2, gap: 23, noShift: true, fmt: v => String(v)}],
  xAxis: {from: 100, minor: 20, major: 100, labels: [100, 200, 300, 400, 500, 600, 700, 800], gap: 25},
  brackets: peBrackets, peakLabels: ldpeLabels,
  texts: [
    {t: 'IR_sm_LDPE', x: 1878, y: 1625, font: '23px ' + FONT, align: 'right'},
    {t: 'Polyethylene', x: 1053, y: 1627, font: '23px ' + FONT, align: 'center'},
    {t: 'm/z', x: 1847, y: 1929, font: '25px ' + FONT, align: 'center'}
  ],
  exps: [[120, 1625, '4']]
});
</script>
</body>
</html>
